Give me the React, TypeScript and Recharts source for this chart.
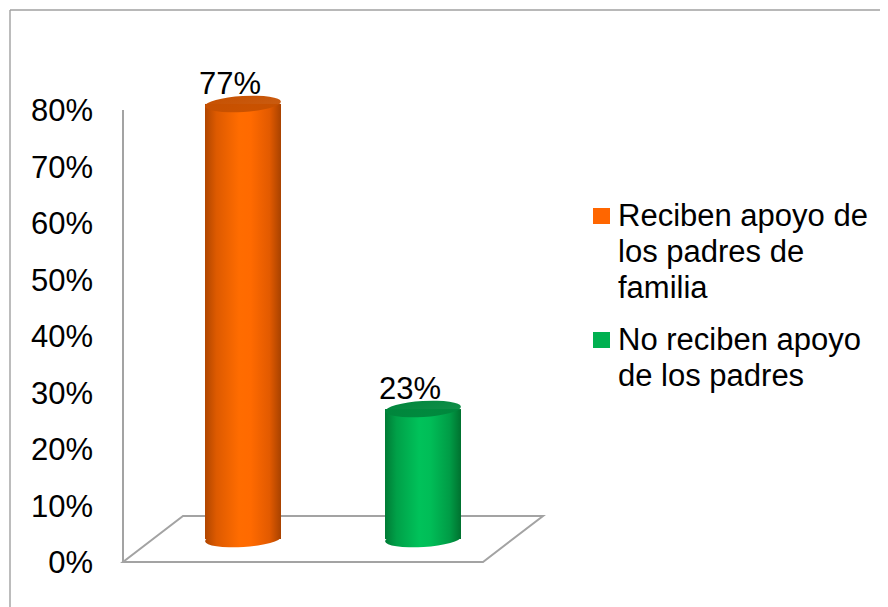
import React from 'react';
import { BarChart, Bar, XAxis, YAxis, LabelList, Legend, Customized } from 'recharts';

const categories = ['Reciben apoyo de los padres de familia', 'No reciben apoyo de los padres'];
const values = [77, 23];
const yTicks = [0, 10, 20, 30, 40, 50, 60, 70, 80];

const palettes = [
  { base: '#FF6600', side: ['#B04600', '#DD5A00', '#FF6C00', '#FF6A00', '#E25A00', '#A84200'], top: '#C65000' },
  { base: '#00B050', side: ['#007B35', '#00A048', '#00C25A', '#00BD57', '#009C46', '#00712F'], top: '#00863C' },
];

const data = categories.map((name, i) => ({ name, value: values[i] }));

const W = 880;
const H = 599;
const M = { top: 79, right: 375, bottom: 68, left: 45 };
const YW = 100;
const L = M.left + YW;
const R = W - M.right;
const T = M.top;
const B = H - M.bottom;
const DX = 30;
const DY = 23;
const FONT = "'Liberation Sans', Arial, Helvetica, sans-serif";

const Cylinder = (props: any) => {
  const { x, y, width, height, index } = props;
  const p = palettes[index % palettes.length];
  const cx = x + width / 2;
  const rx = width / 2;
  const ry = 8;
  const id = `cyl-${index}`;
  const stops = [0, 0.15, 0.45, 0.6, 0.85, 1];
  return (
    <g>
      <defs>
        <linearGradient id={id} x1="0" y1="0" x2="1" y2="0">
          {p.side.map((c, i) => (
            <stop key={i} offset={stops[i]} stopColor={c} />
          ))}
        </linearGradient>
        <linearGradient id={id + '-top'} x1="0" y1="0" x2="1" y2="1">
          <stop offset="0" stopColor={p.top} />
          <stop offset="1" stopColor={p.top} stopOpacity={0.92} />
        </linearGradient>
      </defs>
      <ellipse cx={cx} cy={y + height} rx={rx} ry={ry} fill={`url(#${id})`} transform={`rotate(-3.5 ${cx} ${y + height})`} />
      <rect x={x} y={y} width={width} height={height} fill={`url(#${id})`} />
      <ellipse cx={cx} cy={y} rx={rx} ry={ry} fill={`url(#${id}-top)`} transform={`rotate(-3.5 ${cx} ${y})`} />
    </g>
  );
};

const YTick = (props: any) => {
  const { y, payload } = props;
  return (
    <text x={L - 60} y={y + DY + 11} textAnchor="end" fontSize={31} fill="#000" fontFamily={FONT}>
      {`${payload.value}%`}
    </text>
  );
};

const ValueLabel = (props: any) => {
  const { x, y, width, value } = props;
  return (
    <text x={x + width / 2 - 13} y={y - 10} textAnchor="middle" fontSize={31} fill="#000" fontFamily={FONT}>
      {`${value}%`}
    </text>
  );
};

const Floor = () => {
  const stroke = '#A3A3A3';
  const fl = L - DX, fr = R - DX, fy = B + DY;
  const bl = L + DX, br = R + DX, by = B - DY;
  return (
    <g>
      <line x1={2} y1={2} x2={W} y2={2} stroke="#A0A0A0" strokeWidth={1.4} />
      <line x1={2} y1={2} x2={2} y2={H} stroke="#A0A0A0" strokeWidth={1.4} />
      <polygon points={`${fl},${fy} ${fr},${fy} ${br},${by} ${bl},${by}`} fill="none" stroke={stroke} strokeWidth={2} />
      <line x1={fl} y1={fy} x2={fl} y2={T + DY} stroke={stroke} strokeWidth={2} />
    </g>
  );
};

const LegendContent = () => (
  <div style={{ fontFamily: FONT, fontSize: 31, lineHeight: '36px', color: '#000' }}>
    {categories.map((c, i) => (
      <div key={c} style={{ display: 'flex', alignItems: 'flex-start', marginBottom: 16 }}>
        <span
          style={{
            display: 'inline-block',
            width: 17,
            height: 16,
            marginTop: 10,
            marginRight: 8,
            background: palettes[i].base,
            flex: 'none',
          }}
        />
        <div style={{ width: 265 }}>{c}</div>
      </div>
    ))}
  </div>
);

export default function App() {
  return (
    <div style={{ width: W, height: H, background: '#fff' }}>
      <BarChart width={W} height={H} data={data} margin={M} barSize={76}>
        <Customized component={Floor} />
        <XAxis dataKey="name" hide />
        <YAxis
          domain={[0, 80]}
          ticks={yTicks}
          interval={0}
          width={YW}
          axisLine={false}
          tickLine={false}
          tick={<YTick />}
        />
        <Legend
          layout="vertical"
          verticalAlign="middle"
          align="center"
          content={<LegendContent />}
          wrapperStyle={{ position: 'absolute', left: 585, top: 190, width: 295, height: 'auto' }}
        />
        <Bar dataKey="value" shape={<Cylinder />} isAnimationActive={false}>
          <LabelList dataKey="value" content={<ValueLabel />} />
        </Bar>
      </BarChart>
    </div>
  );
}
